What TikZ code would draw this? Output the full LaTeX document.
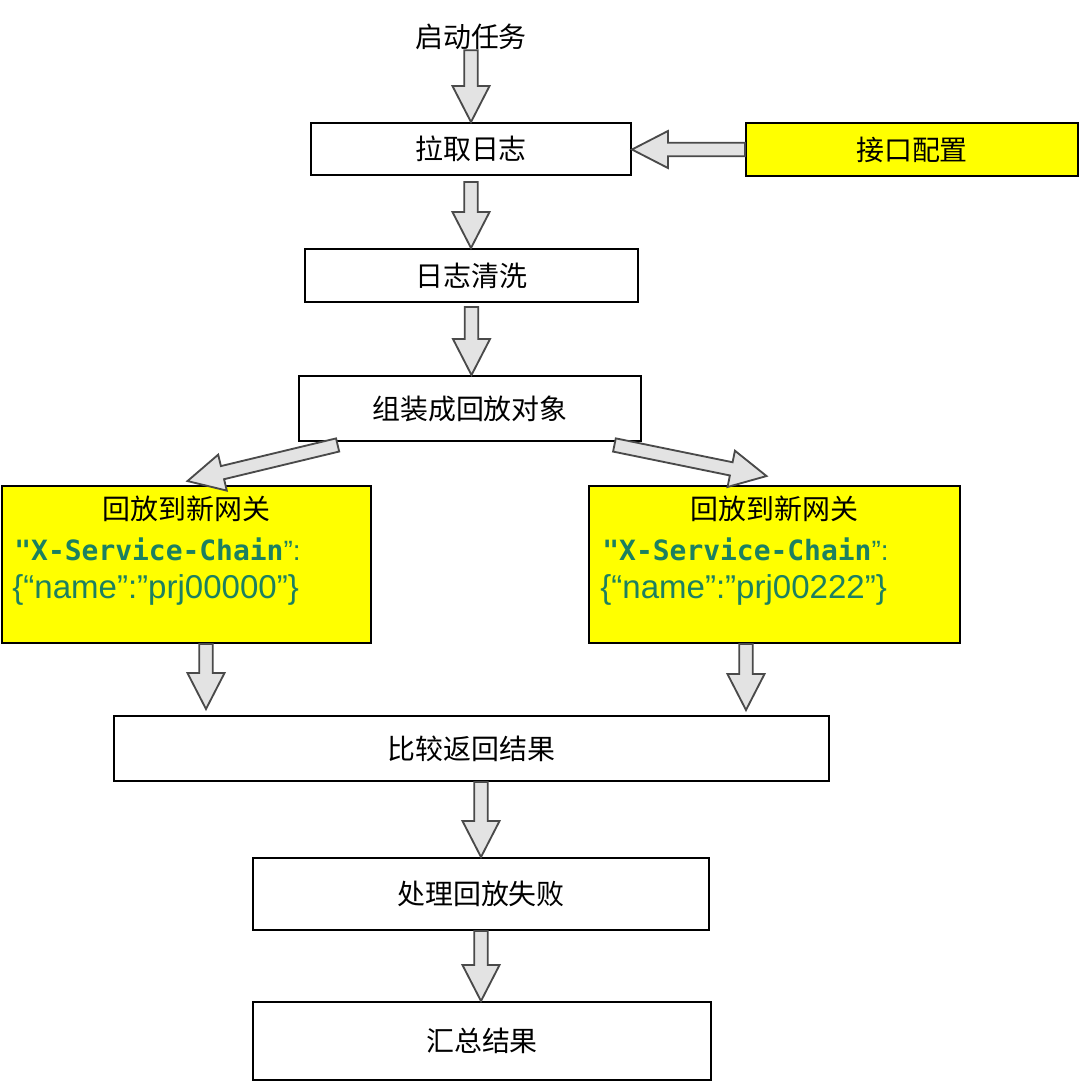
\documentclass[tikz,border=0pt]{standalone}
\usepackage{fontspec}
\setmainfont{Liberation Sans}
\newfontfamily\cjk{Noto Sans CJK SC}
\newfontfamily\codefont{DejaVu Sans Mono}
\usetikzlibrary{calc, positioning}
\definecolor{boxyellow}{HTML}{FFFF00}
\definecolor{codegreen}{HTML}{1C8060}
\definecolor{arrowgray}{HTML}{E3E3E3}
\definecolor{arrowline}{HTML}{4A4A4A}

\tikzset{
  stepbox/.style={draw=black, line width=1.1pt, fill=white, inner sep=0pt, font=\cjk\fontsize{15.9}{19}\selectfont},
  gatebox/.style={stepbox, fill=boxyellow},
  cjklabel/.style={inner sep=0pt, font=\cjk\fontsize{15.9}{19}\selectfont},
  codeline/.style={inner sep=0pt, anchor=west, text=codegreen},
  fatarrow/.style={draw=arrowline, line width=1.05pt, fill=arrowgray, line join=miter},
}

% block arrow from #1 to #2 (tip at #2)
\newcommand{\blockarrow}[2]{%
  \coordinate (ba-a) at (#1);
  \coordinate (ba-b) at (#2);
  \coordinate (ba-h) at ($(ba-b)!0.72cm!(ba-a)$);
  \draw[fatarrow] ($(ba-a)!0.135cm!90:(ba-b)$) -- ($(ba-h)!0.135cm!-90:(ba-a)$)
    -- ($(ba-h)!0.37cm!-90:(ba-a)$) -- (ba-b) -- ($(ba-h)!0.37cm!90:(ba-a)$)
    -- ($(ba-h)!0.135cm!90:(ba-a)$) -- ($(ba-a)!0.135cm!-90:(ba-b)$) -- cycle;
}

\begin{document}
\begin{tikzpicture}[x=0.02cm, y=-0.02cm]
  \useasboundingbox (0,0) rectangle (1080,1083);

  % main chain
  \node[cjklabel] (start) at (471,37) {启动任务};
  \node[stepbox, minimum width=6.4cm, minimum height=1.04cm] (pull) at (471,149) {拉取日志};
  \node[gatebox, minimum width=6.64cm, minimum height=1.06cm] (config) at (912,149.5) {接口配置};
  \node[stepbox, minimum width=6.66cm, minimum height=1.06cm] (clean) at (471.5,275.5) {日志清洗};
  \node[stepbox, minimum width=6.84cm, minimum height=1.3cm] (object) at (470,408.5) {组装成回放对象};

  % two gateways
  \node[gatebox, minimum width=7.38cm, minimum height=3.14cm] (leftgw) at (186.5,564.5) {};
  \node[gatebox, minimum width=7.42cm, minimum height=3.14cm] (rightgw) at (774.5,564.5) {};
  \node[cjklabel] (lefttitle) at ($(leftgw.north)+(0,24)$) {回放到新网关};
  \node[codeline] (leftkey) at ($(leftgw.north west)+(13,64)$)
    {{\codefont\bfseries\fontsize{15.9}{19}\selectfont "X-Service-Chain}{\fontsize{15.9}{19}\selectfont ”:}};
  \node[codeline, font=\fontsize{18.8}{22}\selectfont] (leftval) at ($(leftgw.north west)+(11,105)$) {\{“name”:”prj00000”\}};
  \node[cjklabel] (righttitle) at ($(rightgw.north)+(0,24)$) {回放到新网关};
  \node[codeline] (rightkey) at ($(rightgw.north west)+(14,64)$)
    {{\codefont\bfseries\fontsize{15.9}{19}\selectfont "X-Service-Chain}{\fontsize{15.9}{19}\selectfont ”:}};
  \node[codeline, font=\fontsize{18.8}{22}\selectfont] (rightval) at ($(rightgw.north west)+(12,105)$) {\{“name”:”prj00222”\}};

  \node[stepbox, minimum width=14.3cm, minimum height=1.3cm] (compare) at (471.5,748.5) {比较返回结果};
  \node[stepbox, minimum width=9.12cm, minimum height=1.44cm] (failure) at (481,894) {处理回放失败};
  \node[stepbox, minimum width=9.16cm, minimum height=1.56cm] (summary) at (482,1041) {汇总结果};

  % arrow ends
  \coordinate (pullout) at ($(pull.south)+(0,6)$);
  \coordinate (cleanin) at (pullout |- clean.north);
  \coordinate (cleanout) at ($(clean.south)+(0,4)$);
  \coordinate (objectin) at (cleanout |- object.north);
  \coordinate (pullin) at (pull.east |- config.west);
  \coordinate (objleft) at ($(object.south west)!0.115!(object.south east)+(0,3)$);
  \coordinate (objright) at ($(object.south west)!0.92!(object.south east)+(0,3)$);
  \coordinate (leftin) at ($(leftgw.north)+(1,-4)$);
  \coordinate (rightin) at ($(rightgw.north)+(-8,-9)$);
  \coordinate (leftout) at ($(leftgw.south)+(19.5,0)$);
  \coordinate (rightout) at ($(rightgw.south)+(-28.5,0)$);
  \coordinate (cmpleft) at ($(leftout |- compare.north)+(0,-6)$);
  \coordinate (cmpright) at ($(rightout |- compare.north)+(0,-5)$);
  \coordinate (cmpout) at (compare.south -| failure.north);
  \coordinate (summaryin) at (failure.south |- summary.north);

  \blockarrow{start.south}{pull.north}
  \blockarrow{pullout}{cleanin}
  \blockarrow{cleanout}{objectin}
  \blockarrow{config.west}{pullin}
  \blockarrow{objleft}{leftin}
  \blockarrow{objright}{rightin}
  \blockarrow{leftout}{cmpleft}
  \blockarrow{rightout}{cmpright}
  \blockarrow{cmpout}{failure.north}
  \blockarrow{failure.south}{summaryin}
\end{tikzpicture}
\end{document}
